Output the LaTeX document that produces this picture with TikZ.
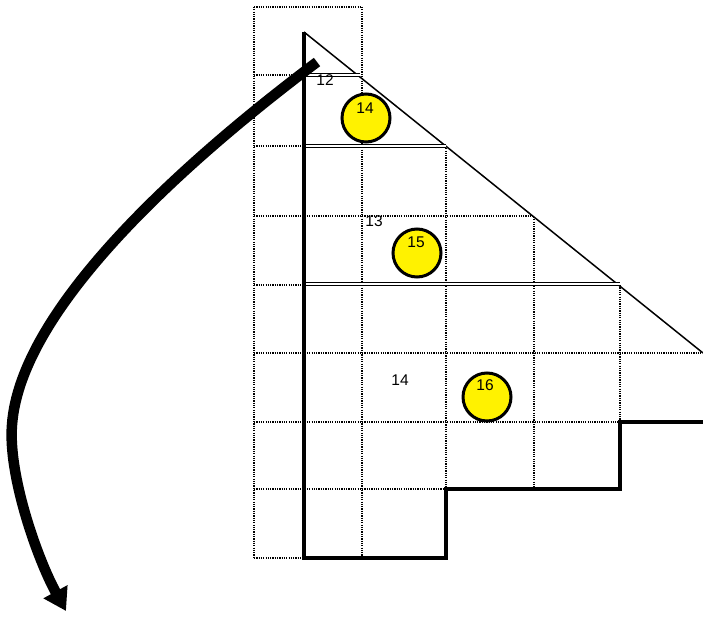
\documentclass[tikz,border=0pt]{standalone}
\usepackage{fontspec}
\setmainfont{Liberation Sans}
\usetikzlibrary{arrows.meta}
\begin{document}
\begin{tikzpicture}[x=1pt, y=-1pt,
  grid/.style={line width=1.2pt, dash pattern=on 1.2pt off 1.1pt},
  wall/.style={line width=3.4pt},
  shelf/.style={double, double distance=1.2pt, line width=1.1pt},
  ball/.style={circle, draw, line width=3pt, fill=yellow, minimum size=48pt, inner sep=0pt},
  num/.style={font=\fontsize{15.5}{15.5}\selectfont, inner sep=0pt}]
\useasboundingbox (0,0) rectangle (703,617);
% dotted grid
\draw[grid] (254,7) -- (362,7);
\draw[grid] (254,75) -- (304,75);
\draw[grid] (254,146) -- (304,146);
\draw[grid] (254,216) -- (533,216);
\draw[grid] (254,285) -- (304,285);
\draw[grid] (254,353) -- (703,353);
\draw[grid] (254,422) -- (620,422);
\draw[grid] (254,489) -- (446,489);
\draw[grid] (254,558) -- (304,558);
\draw[grid] (254,7) -- (254,558);
\draw[grid] (362,7) -- (362,558);
\draw[grid] (446,146) -- (446,489);
\draw[grid] (534,217) -- (534,489);
\draw[grid] (620,285) -- (620,422);
% slope and shelves
\draw[line width=1.5pt] (304,32) -- (703,353);
\draw[shelf] (304,75) -- (360,75);
\draw[shelf] (304,146) -- (446,146);
\draw[shelf] (304,284) -- (620,284);
% walls
\draw[wall, line join=miter] (304,32) -- (304,558) -- (446,558) -- (446,489)
  -- (620,489) -- (620,422) -- (703,422);
% balls
\node[ball] (b14) at (366,118) {};
\node[num] (n14) at (365,108) {14};
\node[ball] (b15) at (417,253) {};
\node[num] (n15) at (416,242) {15};
\node[ball] (b16) at (487,397) {};
\node[num] (n16) at (485,385) {16};
% levels
\node[num] (l12) at (325,80) {12};
\node[num] (l13) at (374,221) {13};
\node[num] (l14) at (400,380) {14};
% path
\coordinate (from) at (317,62);
\coordinate (bend) at (12,425);
\coordinate (to) at (66,611);
\draw[line width=10.5pt, -{Triangle[length=22pt,width=26pt]}]
  (from) .. controls (180,165) and (20,310) .. (bend)
  .. controls (8,475) and (37,558) .. (to);
\end{tikzpicture}
\end{document}
